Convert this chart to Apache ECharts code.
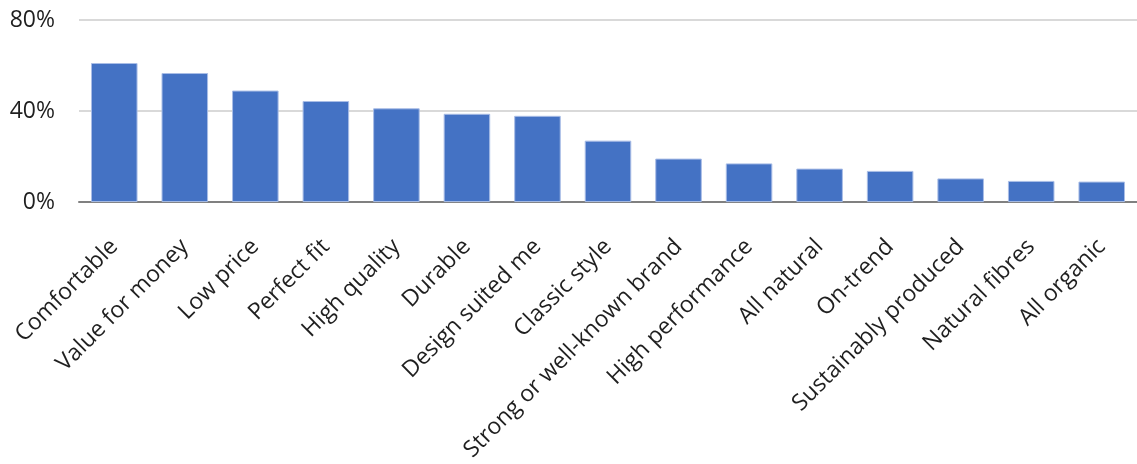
<!DOCTYPE html>
<html>
<head>
<meta charset="utf-8">
<script src="https://cdn.jsdelivr.net/npm/echarts@6/dist/echarts.min.js"></script>
<style>
html,body{margin:0;padding:0;background:#fff;}
#chart{width:1137px;height:464px;}
</style>
</head>
<body>
<div id="chart"></div>
<script>
const categories = ["Comfortable","Value for money","Low price","Perfect fit","High quality","Durable","Design suited me","Classic style","Strong or well-known brand","High performance","All natural","On-trend","Sustainably produced","Natural fibres","All organic"];
const values = [61.1, 56.7, 49.0, 44.4, 41.2, 38.8, 37.9, 27.0, 19.1, 17.0, 14.7, 13.7, 10.4, 9.3, 9.0];
const yTicks = [0, 40, 80];

const chart = echarts.init(document.getElementById('chart'), null, {renderer:'canvas'});
chart.setOption({
  animation:false,
  backgroundColor:'#ffffff',
  grid:{left:79, top:20, width:1064, height:183, containLabel:false},
  xAxis:{
    type:'category',
    data:categories,
    axisLine:{lineStyle:{color:'#808080', width:2}},
    axisTick:{show:false},
    axisLabel:{rotate:45, interval:0, margin:41, color:'#1f1f1f', fontFamily:'Open Sans', fontSize:23}
  },
  yAxis:{
    type:'value',
    min:yTicks[0], max:yTicks[yTicks.length-1], interval:40,
    axisLine:{show:false}, axisTick:{show:false},
    splitLine:{lineStyle:{color:'#d9d9d9', width:2}},
    axisLabel:{formatter:'{value}%', margin:24, color:'#1f1f1f', fontFamily:'Open Sans', fontSize:23}
  },
  series:[{
    type:'bar',
    data:values,
    barCategoryGap:'34%',
    itemStyle:{color:'#4472C4', borderColor:'#a9bde6', borderWidth:1}
  }]
});
</script>
</body>
</html>
